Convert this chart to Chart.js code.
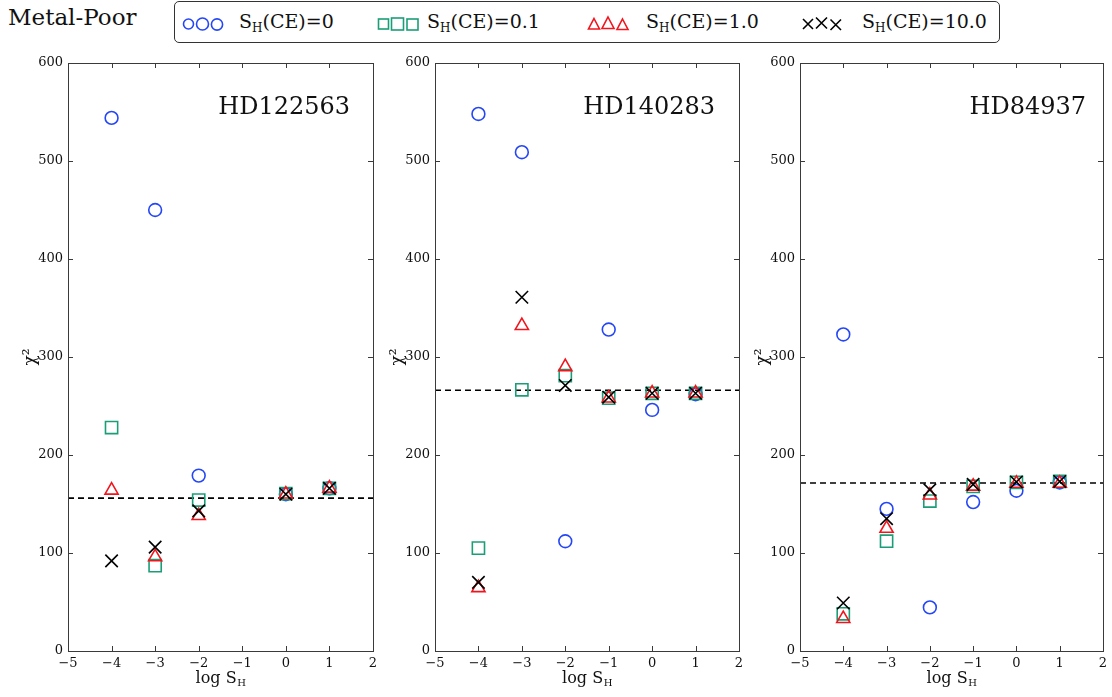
<!DOCTYPE html>
<html>
<head>
<meta charset="utf-8">
<script src="https://cdn.jsdelivr.net/npm/chart.js@4.4.1/dist/chart.umd.min.js"></script>
<style>
  html, body { margin: 0; padding: 0; background: #fff; }
  body { width: 1112px; height: 697px; position: relative; overflow: hidden; font-family: 'DejaVu Serif', serif; color: #111; }
  .panel { position: absolute; }
  .panel canvas { display: block; }
  #heading { position: absolute; left: 8px; top: 4px; font-size: 23px; white-space: nowrap; }
  #legend { position: absolute; left: 174px; top: 1px; width: 826px; height: 42px; border: 1px solid #333; border-radius: 5px; box-sizing: border-box; }
  .lg-mark { position: absolute; top: 12px; }
  .lg-text { position: absolute; top: 8px; font-size: 19px; white-space: nowrap; line-height: 22px; }
  .lg-text sub { font-size: 12px; vertical-align: -4px; line-height: 0; }
</style>
</head>
<body>
<div id="heading">Metal-Poor</div>
<div id="legend"></div>
<div id="panels"></div>
<script>
// x positions of the fits (log S_H) and axis ticks
const logSH = [-4, -3, -2, -1, 0, 1];
const xTickValues = [-5, -4, -3, -2, -1, 0, 1, 2];
const yTickValues = [0, 100, 200, 300, 400, 500, 600];

// legend / series names (S_H for charge exchange)
const ceValues = ['0', '0.1', '1.0', '10.0'];
const starNames = ['HD122563', 'HD140283', 'HD84937'];

// chi-square per star, one array per S_H(CE) value
const hd122563Ce0  = [544, 450, 179, null, 160, 166];
const hd122563Ce01 = [228, 87, 154, null, 160.5, 166];
const hd122563Ce1  = [164, 96, 138, null, 160, 166];
const hd122563Ce10 = [92, 106, 143, null, 160, 166];

const hd140283Ce0  = [548, 509, 112, 328, 246, 262];
const hd140283Ce01 = [105, 266.5, 281, 258, 263, 263];
const hd140283Ce1  = [64.5, 332, 290, 258, 263, 263];
const hd140283Ce10 = [70, 361, 271, 259, 263, 263];

const hd84937Ce0  = [323, 145, 44.5, 152, 163.5, 172];
const hd84937Ce01 = [38, 112, 153, 168, 172, 173];
const hd84937Ce1  = [33, 125, 159, 168, 171, 171];
const hd84937Ce10 = [49, 135, 164.5, 170, 172.5, 173];

// reference chi-square level (dashed line) per star
const referenceChi2 = [156, 266, 171.5];

const starSeries = [
  [hd122563Ce0, hd122563Ce01, hd122563Ce1, hd122563Ce10],
  [hd140283Ce0, hd140283Ce01, hd140283Ce1, hd140283Ce10],
  [hd84937Ce0, hd84937Ce01, hd84937Ce1, hd84937Ce10]
];

// marker styling per S_H(CE) value
const markerStyles = [
  { color: '#2446f7', pointStyle: 'circle',   radius: 6.4 },
  { color: '#1b9e77', pointStyle: 'rect',     radius: 8.6 },
  { color: '#f2141c', pointStyle: 'triangle', radius: 7.6 },
  { color: '#000000', pointStyle: 'crossRot', radius: 8.8 }
];

const FONT = "'DejaVu Serif', serif";

// ---- legend (HTML) ----
(function buildLegend() {
  const lg = document.getElementById('legend');
  const markLeft = [7, 202, 412, 627];
  const textLeft = [64, 252, 471, 687];
  const svgFor = (i) => {
    const c = markerStyles[i].color;
    const sw = 'stroke-width="1.6" fill="none" stroke="' + c + '"';
    if (i === 0) {
      return '<circle cx="6.5" cy="10" r="5" ' + sw + '/><circle cx="20.5" cy="10" r="6" ' + sw + '/><circle cx="35" cy="10.5" r="5.6" ' + sw + '/>';
    }
    if (i === 1) {
      return '<rect x="1.5" y="5" width="10" height="10" ' + sw + '/><rect x="14.5" y="4" width="12" height="12" ' + sw + '/><rect x="30" y="5" width="11" height="11" ' + sw + '/>';
    }
    if (i === 2) {
      return '<polygon points="7,4.5 12.5,15 1.5,15" ' + sw + '/><polygon points="21,3 27,14.5 15,14.5" ' + sw + '/><polygon points="35.5,5 41,15.5 30,15.5" ' + sw + '/>';
    }
    return '<path d="M1,5 L11,15 M11,5 L1,15 M14,3.5 L25,14.5 M25,3.5 L14,14.5 M28.5,5.5 L39,16 M39,5.5 L28.5,16" ' + sw + '/>';
  };
  ceValues.forEach((v, i) => {
    const s = document.createElement('div');
    s.className = 'lg-mark';
    s.style.left = markLeft[i] + 'px';
    s.innerHTML = '<svg width="44" height="20" viewBox="0 0 44 20">' + svgFor(i) + '</svg>';
    lg.appendChild(s);
    const t = document.createElement('div');
    t.className = 'lg-text';
    t.style.left = textLeft[i] + 'px';
    t.innerHTML = 'S<sub>H</sub>(CE)=' + v;
    lg.appendChild(t);
  });
})();

// ---- frame, inward ticks, axis titles and star name ----
const decorPlugin = {
  id: 'decor',
  afterDraw(chart, args, opts) {
    const { ctx, chartArea: a, scales } = chart;
    const xs = scales.x, ys = scales.y;
    ctx.save();
    ctx.strokeStyle = '#3a3a3a';
    ctx.lineWidth = 1;
    ctx.strokeRect(Math.round(a.left) + 0.5, Math.round(a.top) + 0.5, Math.round(a.right - a.left), Math.round(a.bottom - a.top));
    const tl = 5;
    ctx.beginPath();
    yTickValues.forEach(v => {
      const py = Math.round(ys.getPixelForValue(v)) + 0.5;
      ctx.moveTo(a.left, py); ctx.lineTo(a.left + tl, py);
      ctx.moveTo(a.right, py); ctx.lineTo(a.right - tl, py);
    });
    xTickValues.forEach(v => {
      const px = Math.round(xs.getPixelForValue(v)) + 0.5;
      ctx.moveTo(px, a.bottom); ctx.lineTo(px, a.bottom - tl);
      ctx.moveTo(px, a.top); ctx.lineTo(px, a.top + tl);
    });
    ctx.stroke();

    ctx.fillStyle = '#111';
    // star name in the upper right of the plot
    ctx.font = '24px ' + FONT;
    ctx.textAlign = 'right';
    ctx.textBaseline = 'alphabetic';
    ctx.fillText(opts.star, a.right - opts.starOffset, a.top + 51);

    // x-axis title: log S_H
    const cx = (a.left + a.right) / 2;
    const base = a.bottom + 32;
    ctx.font = '16px ' + FONT;
    const w1 = ctx.measureText('log S').width;
    ctx.font = '10px ' + FONT;
    const w2 = ctx.measureText('H').width;
    const x0 = cx - (w1 + w2) / 2;
    ctx.textAlign = 'left';
    ctx.font = '16px ' + FONT;
    ctx.fillText('log S', x0, base);
    ctx.font = '10px ' + FONT;
    ctx.fillText('H', x0 + w1 + 0.5, base + 3);

    // y-axis title: chi squared, rotated
    ctx.translate(a.left - 37, (a.top + a.bottom) / 2);
    ctx.rotate(-Math.PI / 2);
    ctx.textAlign = 'center';
    ctx.textBaseline = 'middle';
    ctx.font = '17px ' + FONT;
    ctx.fillText('\u03C7\u00B2', 0, 0);
    ctx.restore();
  }
};

// plot-area placement of each panel
const areas = [
  { left: 68, right: 373, starOffset: 23 },
  { left: 435, right: 739, starOffset: 24 },
  { left: 800, right: 1103, starOffset: 17 }
];
const AREA_TOP = 63, AREA_BOTTOM = 651;
const Y_AXIS_W = 60, X_AXIS_H = 46, PAD_TOP = 23, PAD_RIGHT = 12;

const minusFmt = v => String(v).replace('-', '\u2212');

starNames.forEach((star, p) => {
  const ar = areas[p];
  const div = document.createElement('div');
  div.className = 'panel';
  const top = AREA_TOP - PAD_TOP;
  const w = ar.right - ar.left + Y_AXIS_W + PAD_RIGHT;
  const h = AREA_BOTTOM - top + X_AXIS_H;
  div.style.left = (ar.left - Y_AXIS_W) + 'px';
  div.style.top = top + 'px';
  div.style.width = w + 'px';
  div.style.height = h + 'px';
  const cv = document.createElement('canvas');
  cv.width = w; cv.height = h;
  div.appendChild(cv);
  document.getElementById('panels').appendChild(div);

  const datasets = starSeries[p].map((vals, i) => ({
    label: 'S_H(CE)=' + ceValues[i],
    data: logSH.map((x, k) => ({ x: x, y: vals[k] })).filter(d => d.y !== null),
    showLine: false,
    pointStyle: markerStyles[i].pointStyle,
    pointRadius: markerStyles[i].radius,
    pointHoverRadius: markerStyles[i].radius,
    pointBorderColor: markerStyles[i].color,
    pointBackgroundColor: 'rgba(0,0,0,0)',
    pointBorderWidth: 1.6,
    order: 3 - i
  }));
  datasets.push({
    label: 'reference',
    data: [{ x: xTickValues[0], y: referenceChi2[p] }, { x: xTickValues[xTickValues.length - 1], y: referenceChi2[p] }],
    showLine: true,
    borderColor: '#000',
    borderWidth: 1.6,
    borderDash: [6, 4],
    pointRadius: 0,
    order: 10
  });

  new Chart(cv, {
    type: 'scatter',
    data: { datasets },
    options: {
      responsive: false,
      animation: false,
      events: [],
      layout: { padding: { top: PAD_TOP, right: PAD_RIGHT, left: 0, bottom: 0 } },
      plugins: {
        legend: { display: false },
        tooltip: { enabled: false },
        decor: { star: star, starOffset: ar.starOffset }
      },
      scales: {
        x: {
          type: 'linear', min: -5, max: 2,
          grid: { display: false, drawTicks: false },
          border: { display: false },
          ticks: { stepSize: 1, padding: 5, color: '#111', font: { family: FONT, size: 13 }, callback: minusFmt, maxRotation: 0 },
          afterFit: s => { s.height = X_AXIS_H; }
        },
        y: {
          type: 'linear', min: 0, max: 600,
          grid: { display: false, drawTicks: false },
          border: { display: false },
          ticks: { stepSize: 100, padding: 5, color: '#111', font: { family: FONT, size: 13 } },
          afterFit: s => { s.width = Y_AXIS_W; }
        }
      }
    },
    plugins: [decorPlugin]
  });
});
</script>
</body>
</html>
